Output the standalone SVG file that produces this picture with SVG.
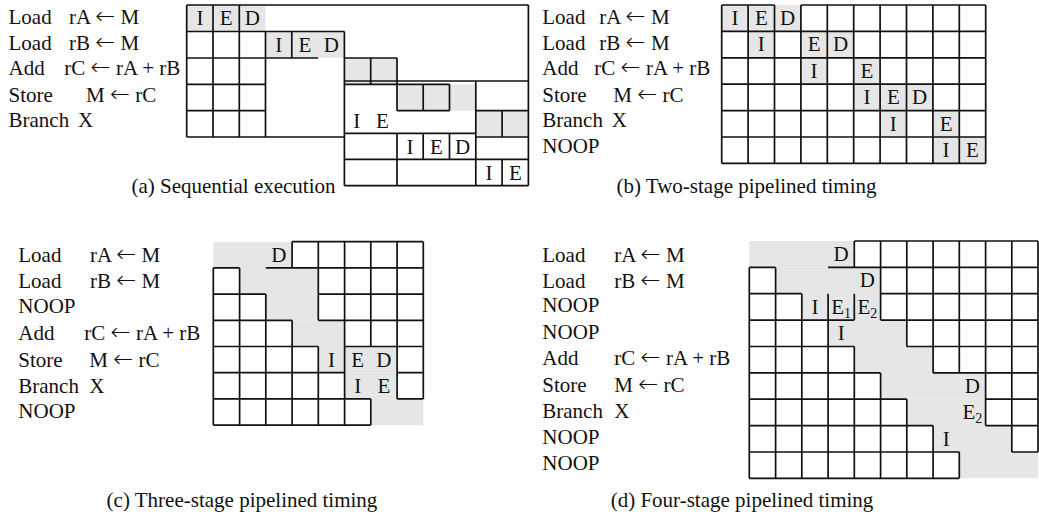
<svg xmlns="http://www.w3.org/2000/svg" width="1039" height="518" viewBox="0 0 1039 518">
<style>
text{font-family:"Liberation Serif","Times New Roman",serif;font-size:21px;fill:#111}
.c{text-anchor:middle}
.ar{font-family:"DejaVu Sans",sans-serif;font-size:24px;font-weight:200}
.g{fill:#e6e6e6;stroke:none}
.ln{fill:none;stroke:#111;stroke-width:1.7}
.sub{font-size:14px}
</style>
<rect width="1039" height="518" fill="#fff"/>

<g id="panel-a">
<g id="a-labels">
<text x="8.5" y="23.5">Load</text><text x="69" y="23.5">rA <tspan class="ar">←</tspan> M</text>
<text x="8.5" y="49.5">Load</text><text x="69" y="49.5">rB <tspan class="ar">←</tspan> M</text>
<text x="8.5" y="75">Add</text><text x="64.3" y="75">rC <tspan class="ar">←</tspan> rA + rB</text>
<text x="8.5" y="101.5">Store</text><text x="86" y="101.5">M <tspan class="ar">←</tspan> rC</text>
<text x="8.5" y="126.5">Branch</text><text x="78" y="126.5">X</text>
</g>
<g id="a-chart">
<rect class="g" x="186.7" y="5" width="78.8" height="26.5"/>
<rect class="g" x="265.5" y="31.5" width="78.9" height="26.5"/>
<rect class="g" x="344.4" y="58" width="52.6" height="26.3"/>
<rect class="g" x="397" y="84.3" width="78.8" height="26.4"/>
<rect class="g" x="475.8" y="110.7" width="52.6" height="26.3"/>
<path class="ln" d="M186.7 5H528.4M528.4 5V185.7M186.7 5V137M213 5V137M239.3 5V137M265.5 31.5V137M186.7 31.5H344.4M186.7 58H318.1M344.4 58H397M186.7 84.3H265.5M344.4 84.3H449.5M186.7 110.7H265.5M397 110.7H449.5M475.8 110.7H528.4M186.7 137H344.4M475.8 137H528.4M291.8 31.5V58M344.4 31.5V185.7M370.7 58V84.3M397 58V110.7M397 133.3V185.7M423.2 84.3V110.7M449.5 84.3V110.7M344.4 81H528.4M475.8 81V185.7M502.1 110.7V137M502.1 159.3V185.7M344.4 133.3H475.8M344.4 159.3H528.4M344.4 185.7H528.4M423.2 133.3V159.3M449.5 133.3V159.3"/>
<text class="c" x="199.9" y="25">I</text><text class="c" x="226.2" y="25">E</text><text class="c" x="252.4" y="25">D</text>
<text class="c" x="278.7" y="51.5">I</text><text class="c" x="305" y="51.5">E</text><text class="c" x="331.3" y="51.5">D</text>
<text class="c" x="356.7" y="128.3">I</text><text class="c" x="382.3" y="128.3">E</text>
<text class="c" x="410.1" y="153.5">I</text><text class="c" x="436.4" y="153.5">E</text><text class="c" x="462.6" y="153.5">D</text>
<text class="c" x="489" y="180">I</text><text class="c" x="515.3" y="180">E</text>
</g>
<text class="c" x="233.5" y="193">(a) Sequential execution</text>
</g>

<g id="panel-b">
<g id="b-labels">
<text x="542.3" y="23.5">Load</text><text x="599.3" y="23.5">rA <tspan class="ar">←</tspan> M</text>
<text x="542.3" y="49.5">Load</text><text x="599.3" y="49.5">rB <tspan class="ar">←</tspan> M</text>
<text x="542.3" y="74.5">Add</text><text x="594.3" y="74.5">rC <tspan class="ar">←</tspan> rA + rB</text>
<text x="542.3" y="101.5">Store</text><text x="613.3" y="101.5">M <tspan class="ar">←</tspan> rC</text>
<text x="542.3" y="126.5">Branch</text><text x="611.7" y="126.5">X</text>
<text x="542.3" y="153">NOOP</text>
</g>
<g id="b-chart">
<rect class="g" x="721.7" y="5" width="79.2" height="26.4"/>
<rect class="g" x="748.1" y="31.4" width="26.4" height="26.4"/>
<rect class="g" x="800.9" y="31.4" width="52.8" height="26.4"/>
<rect class="g" x="800.9" y="57.8" width="26.4" height="26.4"/>
<rect class="g" x="853.7" y="57.8" width="26.4" height="26.4"/>
<rect class="g" x="853.7" y="84.2" width="79.2" height="26.4"/>
<rect class="g" x="880.1" y="110.6" width="26.4" height="26.4"/>
<rect class="g" x="932.9" y="110.6" width="26.4" height="26.4"/>
<rect class="g" x="932.9" y="137" width="52.8" height="26.4"/>
<path class="ln" d="M721.7 5H774.5M800.9 5H985.7M721.7 31.4H985.7M721.7 57.8H985.7M721.7 84.2H985.7M721.7 110.6H985.7M721.7 137H985.7M721.7 163.4H985.7M721.7 5V163.4M748.1 5V163.4M774.5 5V163.4M800.9 5V163.4M827.3 5V163.4M853.7 5V163.4M880.1 5V163.4M906.5 5V163.4M932.9 5V163.4M959.3 5V163.4M985.7 5V163.4"/>
<text class="c" x="734.9" y="25">I</text><text class="c" x="761.3" y="25">E</text><text class="c" x="787.7" y="25">D</text>
<text class="c" x="761.3" y="51.4">I</text><text class="c" x="814.1" y="51.4">E</text><text class="c" x="840.5" y="51.4">D</text>
<text class="c" x="814.1" y="77.8">I</text><text class="c" x="866.9" y="77.8">E</text>
<text class="c" x="866.9" y="104.2">I</text><text class="c" x="893.3" y="104.2">E</text><text class="c" x="919.7" y="104.2">D</text>
<text class="c" x="893.3" y="130.6">I</text><text class="c" x="946.1" y="130.6">E</text>
<text class="c" x="946.1" y="157">I</text><text class="c" x="972.5" y="157">E</text>
</g>
<text class="c" x="746.5" y="193">(b) Two-stage pipelined timing</text>
</g>

<g id="panel-c">
<g id="c-labels">
<text x="18.3" y="261.7">Load</text><text x="90" y="261.7">rA <tspan class="ar">←</tspan> M</text>
<text x="18.3" y="288.3">Load</text><text x="90" y="288.3">rB <tspan class="ar">←</tspan> M</text>
<text x="18.3" y="313.3">NOOP</text>
<text x="18.3" y="340">Add</text><text x="84.3" y="340">rC <tspan class="ar">←</tspan> rA + rB</text>
<text x="18.3" y="366.7">Store</text><text x="89.3" y="366.7">M <tspan class="ar">←</tspan> rC</text>
<text x="18.3" y="392.7">Branch</text><text x="89.3" y="392.7">X</text>
<text x="18.3" y="418.3">NOOP</text>
</g>
<g id="c-chart">
<rect class="g" x="213.3" y="241.7" width="78.8" height="26.2"/>
<rect class="g" x="239.6" y="267.9" width="78.7" height="26.2"/>
<rect class="g" x="265.8" y="294.1" width="52.5" height="26.2"/>
<rect class="g" x="292.1" y="320.3" width="52.5" height="26.2"/>
<rect class="g" x="318.3" y="346.5" width="78.8" height="26.2"/>
<rect class="g" x="344.6" y="372.7" width="52.5" height="26.2"/>
<rect class="g" x="370.8" y="398.9" width="52.5" height="26.2"/>
<path class="ln" d="M292.1 241.7H423.3M213.3 267.9H239.6M265.8 267.9H423.3M213.3 294.1H265.8M318.3 294.1H423.3M213.3 320.3H292.1M318.3 320.3H423.3M213.3 346.5H318.3M344.6 346.5H423.3M213.3 372.7H344.6M397.1 372.7H423.3M213.3 398.9H370.8M397.1 398.9H423.3M213.3 425.1H370.8M213.3 267.9V425.1M239.6 267.9V425.1M265.8 294.1V425.1M292.1 241.7V267.9M292.1 320.3V425.1M318.3 241.7V320.3M318.3 346.5V425.1M344.6 241.7V425.1M370.8 241.7V346.5M370.8 398.9V425.1M397.1 241.7V398.9M423.3 241.7V398.9"/>
<text class="c" x="278.9" y="261.7">D</text>
<text class="c" x="331.4" y="366.5">I</text><text class="c" x="357.7" y="366.5">E</text><text class="c" x="383.9" y="366.5">D</text>
<text class="c" x="357.7" y="392.7">I</text><text class="c" x="383.9" y="392.7">E</text>
</g>
<text class="c" x="242" y="507">(c) Three-stage pipelined timing</text>
</g>

<g id="panel-d">
<g id="d-labels">
<text x="542.3" y="261.5">Load</text><text x="614.3" y="261.5">rA <tspan class="ar">←</tspan> M</text>
<text x="542.3" y="287.5">Load</text><text x="614.3" y="287.5">rB <tspan class="ar">←</tspan> M</text>
<text x="542.3" y="312">NOOP</text>
<text x="542.3" y="338.5">NOOP</text>
<text x="542.3" y="365">Add</text><text x="614.3" y="365">rC <tspan class="ar">←</tspan> rA + rB</text>
<text x="542.3" y="391.5">Store</text><text x="614.3" y="391.5">M <tspan class="ar">←</tspan> rC</text>
<text x="542.3" y="417.5">Branch</text><text x="614.3" y="417.5">X</text>
<text x="542.3" y="443.5">NOOP</text>
<text x="542.3" y="469.5">NOOP</text>
</g>
<g id="d-chart">
<rect class="g" x="749.3" y="241" width="105" height="26.4"/>
<rect class="g" x="775.6" y="267.4" width="105" height="26.3"/>
<rect class="g" x="801.8" y="293.7" width="78.8" height="26.4"/>
<rect class="g" x="828.1" y="320.1" width="78.7" height="26.4"/>
<rect class="g" x="854.3" y="346.5" width="78.8" height="26.4"/>
<rect class="g" x="880.6" y="372.9" width="105" height="26.3"/>
<rect class="g" x="906.8" y="399.2" width="78.8" height="26.4"/>
<rect class="g" x="933.1" y="425.6" width="78.7" height="26.4"/>
<rect class="g" x="959.3" y="452" width="78.7" height="26.3"/>
<path class="ln" d="M854.3 241H1038M749.3 267.4H775.6M828.1 267.4H1038M749.3 293.7H801.8M880.6 293.7H1038M749.3 320.1H854.3M880.6 320.1H1038M749.3 346.5H854.3M906.8 346.5H1038M749.3 372.9H880.6M933.1 372.9H1038M749.3 399.2H906.8M985.6 399.2H1038M749.3 425.6H933.1M985.6 425.6H1038M749.3 452H959.3M1011.8 452H1038M749.3 478.3H959.3M749.3 267.4V478.3M775.6 267.4V478.3M801.8 293.7V478.3M828.1 293.7V478.3M854.3 241V267.4M854.3 293.7V320.1M854.3 346.5V478.3M880.6 241V320.1M880.6 372.9V478.3M906.8 241V346.5M906.8 399.2V478.3M933.1 241V372.9M933.1 425.6V478.3M959.3 241V372.9M959.3 452V478.3M985.6 241V425.6M1011.8 241V452M1038 241V452"/>
<text class="c" x="841.2" y="261">D</text>
<text class="c" x="867.4" y="287.4">D</text>
<text class="c" x="814.9" y="313.7">I</text><text class="c" x="841.2" y="313.7">E<tspan class="sub" dy="4">1</tspan></text><text class="c" x="867.4" y="313.7">E<tspan class="sub" dy="4">2</tspan></text>
<text class="c" x="841.2" y="340.1">I</text>
<text class="c" x="972.4" y="392.9">D</text>
<text class="c" x="972.4" y="419.2">E<tspan class="sub" dy="4">2</tspan></text>
<text class="c" x="946.2" y="445.6">I</text>
</g>
<text class="c" x="742" y="507">(d) Four-stage pipelined timing</text>
</g>
</svg>
